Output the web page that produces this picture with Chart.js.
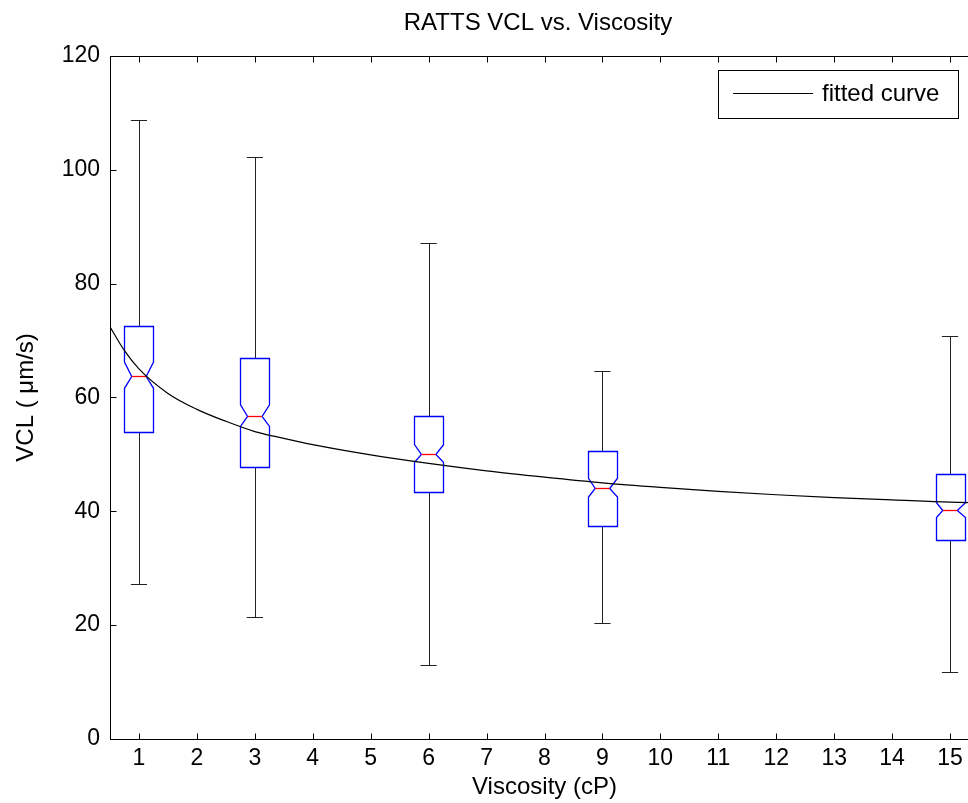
<!DOCTYPE html>
<html>
<head>
<meta charset="utf-8">
<title>RATTS VCL vs. Viscosity</title>
<script src="https://cdn.jsdelivr.net/npm/chart.js@4.4.1/dist/chart.umd.min.js"></script>
<style>
    html, body { margin: 0; padding: 0; background: #fff; overflow: hidden; }
    #wrap { width: 968px; height: 803px; overflow: hidden; }
</style>
</head>
<body>
<div id="wrap"><canvas id="chart" width="1076" height="803"></canvas></div>
<script>
// Box plot groups (x position on the axis)
const boxPositions = [1, 3, 6, 9, 15];
const whiskerLow  = [27.2, 21.4, 13.0, 20.4, 11.8];
const quart1      = [53.9, 47.7, 43.3, 37.4, 35.0];
const medians     = [63.7, 56.7, 50.1, 44.1, 40.2];
const quart3      = [72.6, 66.9, 56.7, 50.6, 46.5];
const whiskerHigh = [108.7, 102.2, 87.1, 64.7, 70.8];
const notchLow    = [61.6, 54.9, 48.6, 42.5, 38.9];
const notchHigh   = [66.2, 58.7, 51.7, 45.8, 41.5];

// Fitted curve
const fitX = [0.5, 0.75, 1, 1.5, 2, 2.5, 3, 3.5, 4, 5, 6, 7, 8, 9, 10, 11, 12, 13, 14, 15, 15.5];
const fitY = [72.4, 68.2, 65.0, 60.7, 57.9, 55.8, 54.0, 52.8, 51.7, 49.9, 48.4, 47.1, 46.0, 45.0, 44.2, 43.5, 42.9, 42.4, 42.0, 41.6, 41.5];

// Tick labels
const xTicks = [1, 2, 3, 4, 5, 6, 7, 8, 9, 10, 11, 12, 13, 14, 15];
const yTicks = [0, 20, 40, 60, 80, 100, 120];

const BOX_HALF = 0.25;
const CAP_HALF = 0.14;
const FONT = "'Liberation Sans', Arial, Helvetica, sans-serif";

Chart.defaults.font.family = FONT;
Chart.defaults.color = '#000';

function crisp(v) { return Math.round(v) + 0.5; }

// Notched box plots drawn with the chart scales
const boxPlotPlugin = {
    id: 'boxPlot',
    beforeDatasetsDraw(chart) {
        const ctx = chart.ctx;
        const xs = chart.scales.x, ys = chart.scales.y;
        ctx.save();
        boxPositions.forEach((pos, i) => {
            const xc = crisp(xs.getPixelForValue(pos));
            const xl = crisp(xs.getPixelForValue(pos - BOX_HALF));
            const xr = crisp(xs.getPixelForValue(pos + BOX_HALF));
            const nl = xs.getPixelForValue(pos - BOX_HALF / 2);
            const nr = xs.getPixelForValue(pos + BOX_HALF / 2);
            const cl = xs.getPixelForValue(pos - CAP_HALF);
            const cr = xs.getPixelForValue(pos + CAP_HALF);
            const yLo = crisp(ys.getPixelForValue(whiskerLow[i]));
            const yHi = crisp(ys.getPixelForValue(whiskerHigh[i]));
            const yQ1 = crisp(ys.getPixelForValue(quart1[i]));
            const yQ3 = crisp(ys.getPixelForValue(quart3[i]));
            const yMed = crisp(ys.getPixelForValue(medians[i]));
            const yNL = ys.getPixelForValue(notchLow[i]);
            const yNH = ys.getPixelForValue(notchHigh[i]);

            // whiskers + caps
            ctx.lineWidth = 1;
            ctx.strokeStyle = '#222';
            ctx.beginPath();
            ctx.moveTo(xc, yQ3); ctx.lineTo(xc, yHi);
            ctx.moveTo(xc, yQ1); ctx.lineTo(xc, yLo);
            ctx.moveTo(cl, yHi); ctx.lineTo(cr, yHi);
            ctx.moveTo(cl, yLo); ctx.lineTo(cr, yLo);
            ctx.stroke();

            // notched box
            ctx.lineWidth = 1.3;
            ctx.strokeStyle = '#0000ff';
            ctx.beginPath();
            ctx.moveTo(xl, yQ1);
            ctx.lineTo(xl, yNL);
            ctx.lineTo(nl, yMed);
            ctx.lineTo(xl, yNH);
            ctx.lineTo(xl, yQ3);
            ctx.lineTo(xr, yQ3);
            ctx.lineTo(xr, yNH);
            ctx.lineTo(nr, yMed);
            ctx.lineTo(xr, yNL);
            ctx.lineTo(xr, yQ1);
            ctx.closePath();
            ctx.stroke();

            // median
            ctx.strokeStyle = '#ff0000';
            ctx.beginPath();
            ctx.moveTo(nl, yMed); ctx.lineTo(nr, yMed);
            ctx.stroke();
        });
        ctx.restore();
    },
    afterDraw(chart) {
        const ctx = chart.ctx;
        const area = chart.chartArea;
        const xs = chart.scales.x, ys = chart.scales.y;
        const L = crisp(area.left), R = crisp(area.right), T = crisp(area.top), B = crisp(area.bottom);
        ctx.save();
        ctx.strokeStyle = '#000';
        ctx.lineWidth = 1;
        ctx.strokeRect(L, T, R - L, B - T);

        // inward tick marks
        ctx.beginPath();
        xTicks.forEach(v => {
            const px = crisp(xs.getPixelForValue(v));
            ctx.moveTo(px, B); ctx.lineTo(px, B - 6);
            ctx.moveTo(px, T); ctx.lineTo(px, T + 6);
        });
        yTicks.forEach(v => {
            const py = crisp(ys.getPixelForValue(v));
            ctx.moveTo(L, py); ctx.lineTo(L + 6, py);
            ctx.moveTo(R, py); ctx.lineTo(R - 6, py);
        });
        ctx.stroke();

        // legend box
        const ds = chart.data.datasets[0];
        const lx = 718.5, ly = 70.5, lw = 240, lh = 48;
        ctx.fillStyle = '#fff';
        ctx.fillRect(lx, ly, lw, lh);
        ctx.strokeRect(lx, ly, lw, lh);
        ctx.beginPath();
        ctx.moveTo(733, 93.5); ctx.lineTo(813, 93.5);
        ctx.stroke();
        ctx.fillStyle = '#000';
        ctx.font = '24px ' + FONT;
        ctx.textBaseline = 'middle';
        ctx.textAlign = 'left';
        ctx.fillText(ds.label, 822, 94);
        ctx.restore();
    }
};

const ctx = document.getElementById('chart').getContext('2d');
new Chart(ctx, {
    type: 'line',
    data: {
        datasets: [{
            label: 'fitted curve',
            data: fitX.map((x, i) => ({ x: x, y: fitY[i] })),
            borderColor: '#000',
            borderWidth: 1.2,
            pointRadius: 0,
            fill: false,
            cubicInterpolationMode: 'monotone',
            xAxisID: 'x',
            yAxisID: 'y'
        }]
    },
    options: {
        responsive: false,
        animation: false,
        devicePixelRatio: 1,
        layout: { padding: 0 },
        plugins: {
            legend: { display: false },
            tooltip: { enabled: false },
            title: {
                display: true,
                text: 'RATTS VCL vs. Viscosity',
                color: '#000',
                font: { size: 24, weight: 'normal' },
                padding: { top: 9, bottom: 18 }
            }
        },
        scales: {
            x: {
                type: 'linear',
                position: 'bottom',
                min: 0.5,
                max: 15.5,
                afterBuildTicks: s => { s.ticks = xTicks.map(v => ({ value: v })); },
                afterFit: s => { s.height = 64; },
                grid: { display: false, drawTicks: false },
                border: { display: false },
                ticks: { font: { size: 23 }, padding: 6, maxRotation: 0, autoSkip: false },
                title: { display: true, text: 'Viscosity (cP)', font: { size: 24 }, padding: { top: 0, bottom: 1 } }
            },
            y: {
                position: 'left',
                min: 0,
                max: 120,
                afterBuildTicks: s => { s.ticks = yTicks.map(v => ({ value: v })); },
                afterFit: s => { s.width = 110; },
                grid: { display: false, drawTicks: false },
                border: { display: false },
                ticks: { font: { size: 23 }, padding: 10 },
                title: { display: true, text: 'VCL ( μm/s)', font: { size: 24 }, padding: { top: 12, bottom: 0 } }
            },
            y2: {
                position: 'right',
                min: 0,
                max: 120,
                afterFit: s => { s.width = 97; },
                grid: { display: false, drawTicks: false },
                border: { display: false },
                ticks: { display: false }
            }
        }
    },
    plugins: [boxPlotPlugin]
});
</script>
</body>
</html>
